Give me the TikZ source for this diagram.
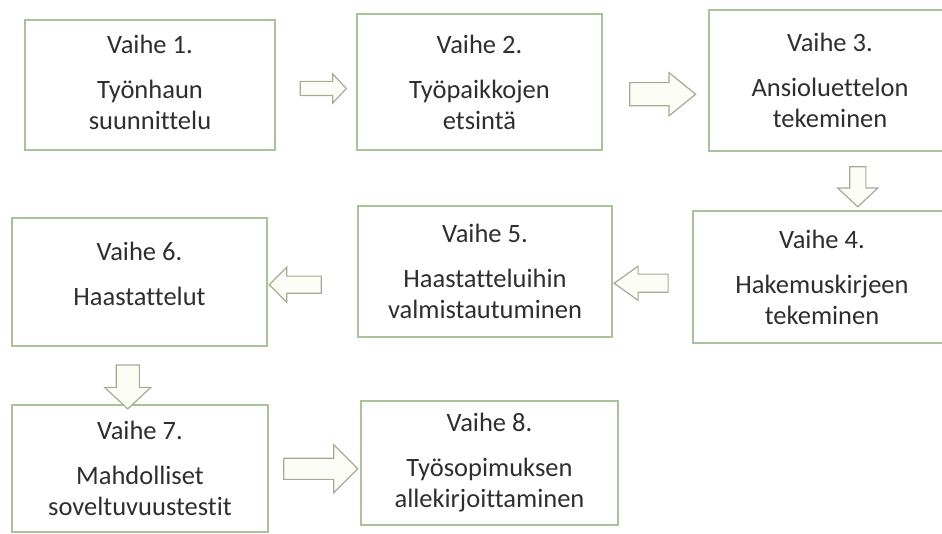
\documentclass[tikz,border=0pt]{standalone}
\usepackage{fontspec}
\setmainfont{Carlito}[Ligatures=NoCommon]
\usetikzlibrary{shapes.arrows, calc}

\definecolor{boxline}{HTML}{A9C29A}
\definecolor{arrowline}{HTML}{A3AD93}
\definecolor{arrowfill}{HTML}{FDFDF8}
\definecolor{steptext}{HTML}{2E2E2E}

\tikzset{
  stepbox/.style={draw=boxline, line width=1.3pt, inner sep=0pt, align=center,
    text=steptext, font=\fontsize{26.5}{31}\selectfont},
  blockarrow/.style={single arrow, draw=arrowline, fill=arrowfill, line width=1.2pt,
    inner xsep=0pt, single arrow tip angle=90},
}

\begin{document}
\begin{tikzpicture}[x=1pt, y=-1pt]
    \useasboundingbox (0,0) rectangle (942,534);
    % steps
    \node[stepbox, minimum width=250, minimum height=130, text depth=6pt] (s1) at (150,85)
        {Vaihe 1.\\[14pt]Työnhaun\\suunnittelu};
    \node[stepbox, minimum width=245, minimum height=136] (s2) at (479.5,82)
        {Vaihe 2.\\[14pt]Työpaikkojen\\etsintä};
    \node[stepbox, minimum width=250, minimum height=141] (s3) at (834,80.5)
        {\hspace*{-8pt}Vaihe 3.\\[14pt]\hspace*{-8pt}Ansioluettelon\\\hspace*{-8pt}tekeminen};
    \node[stepbox, minimum width=265, minimum height=132] (s4) at (825.5,277)
        {\hspace*{-7pt}Vaihe 4.\\[14pt]\hspace*{-7pt}Hakemuskirjeen\\\hspace*{-7pt}tekeminen};
    \node[stepbox, minimum width=254, minimum height=131] (s5) at (485,271.5)
        {Vaihe 5.\\[14pt]Haastatteluihin\\valmistautuminen};
    \node[stepbox, minimum width=255, minimum height=128, text depth=16pt] (s6) at (139.5,282)
        {Vaihe 6.\\[14pt]Haastattelut};
    \node[stepbox, minimum width=256, minimum height=127] (s7) at (140,468.5)
        {Vaihe 7.\\[14pt]Mahdolliset\\soveltuvuustestit};
    \node[stepbox, minimum width=257, minimum height=124] (s8) at (489.5,463)
        {Vaihe 8.\\[14pt]Työsopimuksen\\allekirjoittaminen};
    % arrows between steps
    \node[blockarrow, minimum height=46, inner ysep=6.5, single arrow head extend=7.5,
        single arrow tip angle=94] (a1) at ($(s1.east)!0.5!(s2.west)+(4,5)$) {};
    \node[blockarrow, minimum height=66, inner ysep=11, single arrow head extend=10,
        single arrow tip angle=78] (a2) at ($(s2.east)!0.5!(s3.west)+(0,13)$) {};
    \node[blockarrow, rotate=-90, minimum height=40, inner ysep=7.5, single arrow head extend=12,
        single arrow tip angle=94] (a3) at ($(s3.south)!0.5!(s4.north)+(28,2)$) {};
    \node[blockarrow, rotate=180, minimum height=54, inner ysep=8.5, single arrow head extend=8,
        single arrow tip angle=71] (a4) at ($(s4.west)!0.5!(s5.east)+(-5,9)$) {};
    \node[blockarrow, rotate=180, minimum height=52, inner ysep=8, single arrow head extend=9]
        (a5) at ($(s5.west)!0.5!(s6.east)+(-13,8)$) {};
    \node[blockarrow, rotate=-90, minimum height=44, inner ysep=11, single arrow head extend=11.5,
        single arrow tip angle=94] (a6) at ($(s6.south)!0.5!(s7.north)+(-12,6)$) {};
    \node[blockarrow, minimum height=74, inner ysep=10, single arrow head extend=13.5]
        (a7) at ($(s7.east)!0.5!(s8.west)+(1,3)$) {};
\end{tikzpicture}
\end{document}
